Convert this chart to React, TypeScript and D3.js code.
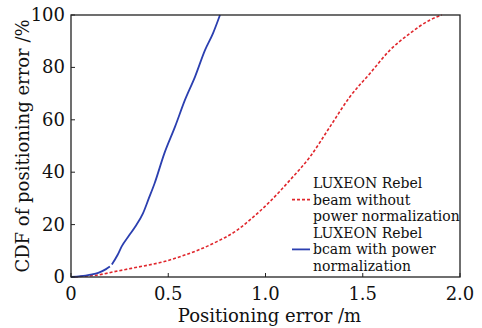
import React from "react";
import * as d3 from "d3";

const xTicks = [0, 0.5, 1.0, 1.5, 2.0];
const xTickLabels = ["0", "0.5", "1.0", "1.5", "2.0"];
const yTicks = [0, 20, 40, 60, 80, 100];

const blueX = [0, 0.05, 0.1, 0.14, 0.18, 0.2, NaN, 0.21, 0.24, 0.26, 0.3, 0.33, 0.37, 0.4, 0.43, 0.48, 0.535, 0.586, 0.638, 0.689, 0.73, 0.766];
const blueY = [0, 0.3, 0.9, 1.6, 3.0, 4.0, NaN, 4.8, 8.5, 11.6, 16, 19.2, 24.3, 30, 35.8, 47.2, 57.4, 67.6, 76.5, 86.6, 93, 100];

const redX = [0.02, 0.08, 0.14, 0.22, 0.31, 0.4, 0.48, 0.57, 0.655, 0.75, 0.843, 0.92, 1.023, 1.126, 1.229, 1.332, 1.434, 1.537, 1.64, 1.743, 1.846, 1.906];
const redY = [0, 0.4, 0.8, 2.0, 3.3, 4.6, 5.9, 8.0, 10.3, 13.5, 17.3, 21.8, 28.8, 37.0, 45.9, 57.4, 68.8, 77.7, 86.6, 93.0, 98.1, 100];

const legendRed = ["LUXEON Rebel", "beam without", "power normalization"];
const legendBlue = ["LUXEON Rebel", "bcam with power", "normalization"];

const W = 482, H = 328;
const M = { left: 71, right: 22, top: 15, bottom: 51 };
const FONT = "'DejaVu Serif', serif";

export default function App() {
  const x = d3.scaleLinear().domain([0, 2]).range([M.left, W - M.right]);
  const y = d3.scaleLinear().domain([0, 100]).range([H - M.bottom, M.top]);
  const line = d3
    .line<[number, number]>()
    .defined((d) => !isNaN(d[0]))
    .x((d) => x(d[0]))
    .y((d) => y(d[1]))
    .curve(d3.curveMonotoneX);
  const blue = blueX.map((v, i) => [v, blueY[i]] as [number, number]);
  const red = redX.map((v, i) => [v, redY[i]] as [number, number]);
  const x0 = x(0), x1 = x(2), y0 = y(0), y1 = y(100);
  const lx = 313, ly = 188, lh = 16.6;
  return (
    <svg width={W} height={H} style={{ position: "absolute", left: 0, top: 0, background: "#fff" }} fontFamily={FONT}>
      <path d={line(red) || ""} fill="none" stroke="#e0262c" strokeWidth={1.6} strokeDasharray="3,2" />
      <path d={line(blue) || ""} fill="none" stroke="#2b3fb0" strokeWidth={1.8} />
      <rect x={x0} y={y1} width={x1 - x0} height={y0 - y1} fill="none" stroke="#222" strokeWidth={1.3} />
      {xTicks.map((t, i) => (
        <g key={"x" + i}>
          <line x1={x(t)} x2={x(t)} y1={y0} y2={y0 - 4} stroke="#222" strokeWidth={1} />
          <text x={x(t)} y={300} textAnchor="middle" fontSize={18} fill="#111">{xTickLabels[i]}</text>
        </g>
      ))}
      {yTicks.map((t, i) => (
        <g key={"y" + i}>
          <line x1={x0} x2={x0 + 4} y1={y(t)} y2={y(t)} stroke="#222" strokeWidth={1} />
          <text x={x0 - 6} y={y(t) + 6} textAnchor="end" fontSize={18} fill="#111">{t}</text>
        </g>
      ))}
      <text x={(x0 + x1) / 2 + 4} y={322} textAnchor="middle" fontSize={18} fill="#111">Positioning error /m</text>
      <text transform={`translate(29,${(y0 + y1) / 2}) rotate(-90)`} textAnchor="middle" fontSize={18} fill="#111">CDF of positioning error /%</text>
      {legendRed.map((s, i) => (
        <text key={"lr" + i} x={lx} y={ly + i * lh} fontSize={14} fill="#111">{s}</text>
      ))}
      <line x1={292} x2={310} y1={ly + lh - 5} y2={ly + lh - 5} stroke="#e0262c" strokeWidth={1.6} strokeDasharray="3,2" />
      {legendBlue.map((s, i) => (
        <text key={"lb" + i} x={lx} y={ly + (i + 3) * lh} fontSize={14} fill="#111">{s}</text>
      ))}
      <line x1={292} x2={310} y1={ly + 4 * lh - 5} y2={ly + 4 * lh - 5} stroke="#2b3fb0" strokeWidth={1.8} />
    </svg>
  );
}
